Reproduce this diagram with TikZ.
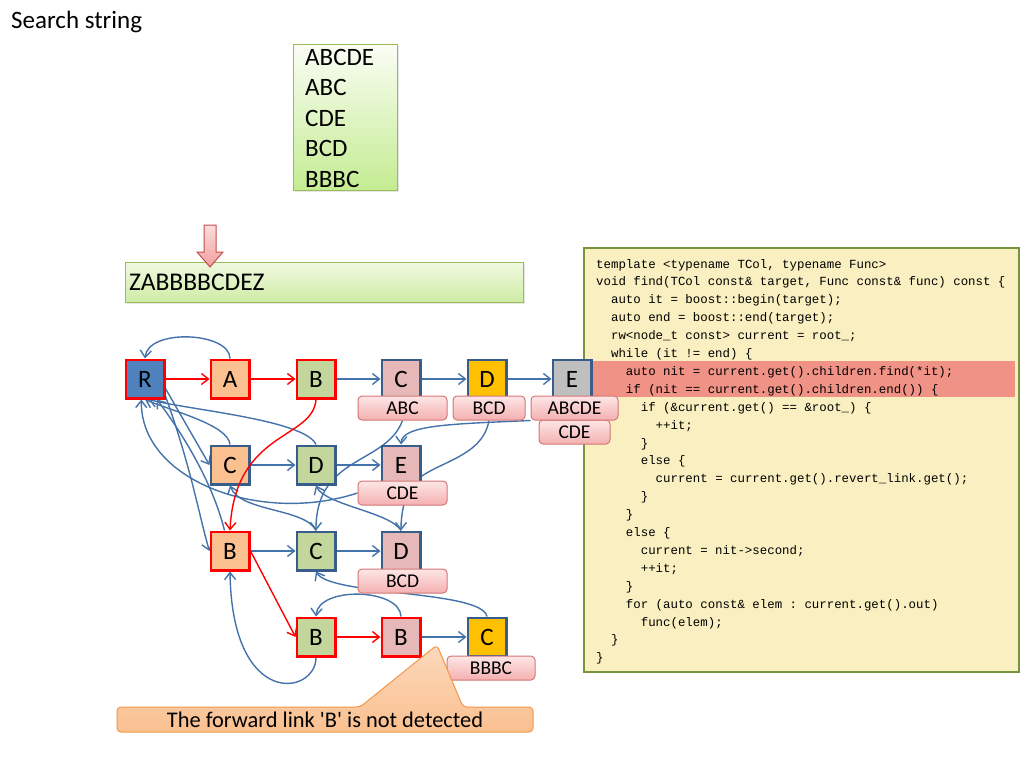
\documentclass[tikz,border=0pt]{standalone}
\usepackage{fontspec}
\setmainfont{Carlito}[Ligatures=TeXOff]
\newfontfamily\codefont{Liberation Mono}
\usetikzlibrary{arrows.meta,shadows}

\definecolor{nodeRed}{RGB}{255,0,0}
\definecolor{nodeBlue}{RGB}{56,93,138}
\definecolor{linkBlue}{RGB}{68,114,170}
\definecolor{fillBlue}{RGB}{79,129,189}
\definecolor{fillOrange}{RGB}{250,192,144}
\definecolor{fillGreen}{RGB}{195,214,155}
\definecolor{fillPink}{RGB}{230,185,184}
\definecolor{fillGold}{RGB}{255,192,0}
\definecolor{fillGray}{RGB}{191,191,191}
\definecolor{lblTop}{RGB}{253,230,230}
\definecolor{lblBot}{RGB}{244,176,176}
\definecolor{lblLine}{RGB}{210,120,118}
\definecolor{listTop}{RGB}{250,253,244}
\definecolor{listBot}{RGB}{196,236,146}
\definecolor{listLine}{RGB}{155,187,89}
\definecolor{barTop}{RGB}{240,249,226}
\definecolor{barBot}{RGB}{207,236,164}
\definecolor{codeFill}{RGB}{249,239,192}
\definecolor{codeLine}{RGB}{119,147,60}
\definecolor{bandFill}{RGB}{241,146,134}
\definecolor{ptrTop}{RGB}{251,220,220}
\definecolor{ptrBot}{RGB}{242,160,158}
\definecolor{ptrLine}{RGB}{192,80,77}
\definecolor{noteTop}{RGB}{252,217,188}
\definecolor{noteBot}{RGB}{250,192,144}
\definecolor{noteLine}{RGB}{247,150,70}

% fixed-width spacing for the listing
\newcommand\codespacing{\spaceskip=0.6em\relax\xspaceskip=0.6em\relax}

\pgfdeclarelayer{back}
\pgfsetlayers{back,main}

\tikzset{
  trie/.style={draw, line width=2.6pt, minimum width=38.4pt, minimum height=38.4pt,
    inner sep=0pt, font=\fontsize{25}{25}\selectfont},
  hot/.style={trie, draw=nodeRed},
  cold/.style={trie, draw=nodeBlue},
  outlbl/.style={draw=lblLine, line width=1pt, rounded corners=4pt,
    top color=lblTop, bottom color=lblBot, minimum height=24pt, inner sep=0pt,
    font=\fontsize{19.5}{20}\selectfont},
  tip/.style={-{Straight Barb[length=7pt,width=11pt]}},
  fwd/.style={tip, draw=linkBlue, line width=1.4pt},
  redfwd/.style={tip, draw=nodeRed, line width=1.4pt},
  fail/.style={tip, draw=linkBlue, line width=1.4pt},
  listbox/.style={draw=listLine, line width=1pt, top color=listTop, bottom color=listBot,
    inner sep=0pt, drop shadow={opacity=0.2, shadow xshift=1.5pt, shadow yshift=-1.5pt}},
}

\begin{document}
\begin{tikzpicture}[x=1pt, y=-1pt]
\useasboundingbox (0,0) rectangle (1024,768);

% heading and the list of patterns
\node[anchor=base west, inner sep=0pt, font=\fontsize{25}{25}\selectfont] (title) at (11,29) {Search string};
\node[listbox, minimum width=104pt, minimum height=145pt] (wordbox) at (345,117.5) {};
\node[anchor=base west, align=left, text width=88pt, inner sep=0pt,
      font=\fontsize{25}{30.5}\selectfont] (words) at (305,65) {ABCDE\\ABC\\CDE\\BCD\\BBBC};

% text being searched, with the cursor arrow
\node[listbox, top color=barTop, bottom color=barBot, minimum height=40pt,
      text width=391pt, align=left, inner xsep=3.5pt, anchor=west,
      font=\fontsize{25.5}{26}\selectfont] (target) at (125,282) {ZABBBBCDEZ};
\coordinate (cursor) at (210,267);
\draw[draw=ptrLine, line width=1pt, top color=ptrTop, bottom color=ptrBot]
  (204,225) -- (216,225) -- (216,252) -- (223,252) -- (cursor) -- (197,252) -- (204,252) -- cycle;

% source listing
\begin{pgfonlayer}{back}
\node[draw=codeLine, line width=2.5pt, fill=codeFill, minimum width=435pt, minimum height=424pt,
      inner sep=0pt] (codebox) at (801.5,460) {};
\node[fill=bandFill, minimum width=422pt, minimum height=36pt, inner sep=0pt] (band) at (804,379) {};
\node[anchor=base west, align=left, text width=420pt, inner sep=0pt,
      font=\codefont\fontsize{12.4}{17.9}\selectfont]
      (code) at (596,268) {\codespacing
template <typename TCol, typename Func>\\
void find(TCol const\& target, Func const\& func) const \{\\
~~auto it = boost::begin(target);\\
~~auto end = boost::end(target);\\
~~rw<node\_t const> current = root\_;\\
~~while (it != end) \{\\
~~~~auto nit = current.get().children.find(*it);\\
~~~~if (nit == current.get().children.end()) \{\\
~~~~~~if (\&current.get() == \&root\_) \{\\
~~~~~~~~++it;\\
~~~~~~\}\\
~~~~~~else \{\\
~~~~~~~~current = current.get().revert\_link.get();\\
~~~~~~\}\\
~~~~\}\\
~~~~else \{\\
~~~~~~current = nit->second;\\
~~~~~~++it;\\
~~~~\}\\
~~~~for (auto const\& elem : current.get().out)\\
~~~~~~func(elem);\\
~~\}\\
\}};
\end{pgfonlayer}

% trie nodes
\node[hot, fill=fillBlue]    (R)  at (145,379) {R};
\node[hot, fill=fillOrange]  (A)  at (230,379) {A};
\node[hot, fill=fillGreen]   (B1) at (316,379) {B};
\node[cold, fill=fillPink]   (C1) at (401,379) {C};
\node[cold, fill=fillGold]   (D1) at (487,379) {D};
\node[cold, fill=fillGray]   (E1) at (572,379) {E};
\node[cold, fill=fillOrange] (C2) at (230,465) {C};
\node[cold, fill=fillGreen]  (D2) at (316,465) {D};
\node[cold, fill=fillPink]   (E2) at (401,465) {E};
\node[hot, fill=fillOrange]  (B3) at (230,551) {B};
\node[cold, fill=fillGreen]  (C3) at (316,551) {C};
\node[cold, fill=fillPink]   (D3) at (401,551) {D};
\node[hot, fill=fillGreen]   (B4) at (316,637) {B};
\node[hot, fill=fillPink]    (B5) at (401,637) {B};
\node[cold, fill=fillGold]   (C4) at (487,637) {C};

% output labels
\node[outlbl, minimum width=89pt] (L1)  at (402.5,408) {ABC};
\node[outlbl, minimum width=72pt] (L2)  at (489,408) {BCD};
\node[outlbl, minimum width=71pt] (L3b) at (574.5,432) {CDE};
\node[outlbl, minimum width=87pt] (L3)  at (574.5,408) {ABCDE};
\node[outlbl, minimum width=89pt] (L4)  at (402.5,493) {CDE};
\node[outlbl, minimum width=89pt] (L5)  at (402.5,581) {BCD};
\node[outlbl, minimum width=88pt] (L6)  at (491,668) {BBBC};

% goto edges and failure links
\begin{pgfonlayer}{back}
\draw[redfwd] (R) -- (A);
\draw[redfwd] (A) -- (B1);
\draw[fwd] (B1) -- (C1);
\draw[fwd] (C1) -- (D1);
\draw[fwd] (D1) -- (E1);
\draw[fwd] (R.-25) -- (C2.west);
\draw[fwd] (R.-40) .. controls (192,470) and (200,520) .. (B3.west);
\draw[fwd] (C2) -- (D2);
\draw[fwd] (D2) -- (E2);
\draw[fwd] (B3) -- (C3);
\draw[fwd] (C3) -- (D3);
\draw[redfwd] (B3.east) -- (B4.west);
\draw[redfwd] (B4) -- (B5);
\draw[fwd] (B5) -- (C4);

\draw[fail] (A.north) .. controls (230,332) and (148,328) .. (R.north);
\draw[fail] (C2.north) .. controls (228,425) and (175,412) .. (R.south);
\draw[fail] (D2.north) .. controls (305,420) and (190,410) .. (R.-80);
\draw[fail] (L4.west) .. controls (260,525) and (140,480) .. (R.-100);
\draw[fail] (B3.105) .. controls (212,480) and (180,430) .. (R.-60);
\draw[fail] (L1.south) .. controls (386,465) and (316,455) .. (C3.north);
\draw[fail] (L2.south) .. controls (482,460) and (430,462) .. (412,485)
                       .. controls (404,497) and (401,515) .. (D3.north);
\draw[fail] (L3.south west) .. controls (450,424) and (402,425) .. (E2.north);
\draw[fail] (C3.north) .. controls (305,508) and (240,512) .. (C2.south);
\draw[fail] (D3.north) .. controls (390,512) and (325,505) .. (D2.south);
\draw[fail] (B4.south) .. controls (316,695) and (232,710) .. (B3.south);
\draw[fail] (B5.north) .. controls (400,588) and (318,586) .. (B4.north);
\draw[fail] (C4.north) .. controls (482,590) and (330,596) .. (C3.south);
\end{pgfonlayer}

% the revert link taken after "AB"
\draw[redfwd] (B1.south) .. controls (313,440) and (235,430) .. (B3.north);

% remark
\coordinate (miss) at (437,645);
\draw[draw=noteLine, line width=1pt, top color=noteTop, bottom color=noteBot, rounded corners=4pt]
  (117,707) -- (360,707) -- (miss) -- (463,707) -- (533,707) -- (533,732) -- (117,732) -- cycle;
\node[inner sep=0pt, font=\fontsize{22.4}{24}\selectfont] (note) at (325,720)
  {The forward link 'B' is not detected};
\end{tikzpicture}
\end{document}
